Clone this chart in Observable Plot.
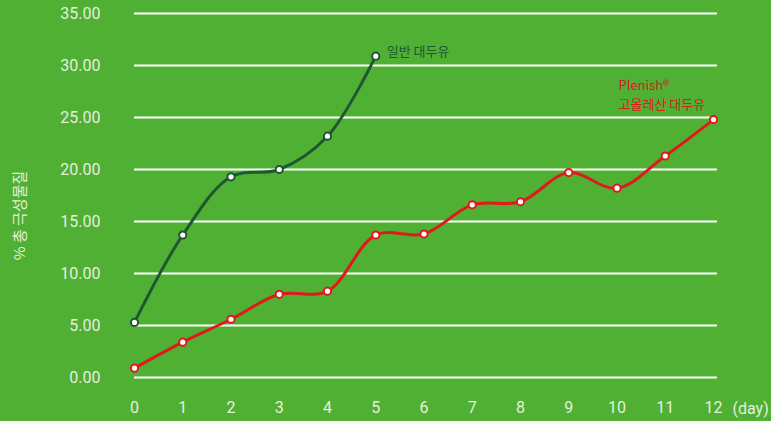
<!DOCTYPE html>
<html>
<head>
<meta charset="utf-8">
<script src="https://cdn.jsdelivr.net/npm/d3@7"></script>
<script src="https://cdn.jsdelivr.net/npm/@observablehq/plot@0.6"></script>
<style>
  html, body { margin: 0; padding: 0; background: #50b034; }
  #chart svg { display: block; }
</style>
</head>
<body>
<div id="chart"></div>
<script>
const days = [0, 1, 2, 3, 4, 5, 6, 7, 8, 9, 10, 11, 12];
const regularValues = [5.3, 13.7, 19.3, 20.0, 23.2, 30.9];
const plenishValues = [0.9, 3.4, 5.6, 8.0, 8.3, 13.7, 13.8, 16.6, 16.9, 19.7, 18.2, 21.3, 24.8];
const yTicks = [0, 5, 10, 15, 20, 25, 30, 35];
const regularName = "일반 대두유";
const plenishName = ["Plenish®", "고올레산 대두유"];
const yTitle = "% 총 극성물질";
const xUnit = "(day)";

const regular = regularValues.map((v, i) => ({day: days[i], value: v}));
const plenish = plenishValues.map((v, i) => ({day: days[i], value: v}));

const green = "#1f5733";
const red = "#e0191b";
const txt = "#e4efdc";
const font = "Roboto, 'Noto Sans CJK KR', sans-serif";

const chart = Plot.plot({
  width: 771,
  height: 421,
  marginLeft: 134,
  marginRight: 58,
  marginTop: 13,
  marginBottom: 44,
  style: {background: "#50b034", color: txt, fontFamily: font, fontSize: "16px"},
  x: {domain: [0, 12], ticks: days, tickFormat: d3.format("d"), tickSize: 0, tickPadding: 24, label: null},
  y: {domain: [0, 35], ticks: yTicks, tickFormat: d3.format(".2f"), tickSize: 0, tickPadding: 34, label: null},
  marks: [
    Plot.ruleY(yTicks, {x1: days[0], x2: days[days.length - 1] + 0.08, stroke: "#ffffff", strokeWidth: 2}),
    Plot.line(regular, {x: "day", y: "value", stroke: green, strokeWidth: 3, curve: "catmull-rom"}),
    Plot.line(plenish, {x: "day", y: "value", stroke: red, strokeWidth: 3, curve: "catmull-rom"}),
    Plot.dot(regular, {x: "day", y: "value", r: 3.6, fill: "#ffffff", stroke: green, strokeWidth: 2}),
    Plot.dot(plenish, {x: "day", y: "value", r: 3.6, fill: "#ffffff", stroke: red, strokeWidth: 2}),
    Plot.text(regular.slice(-1), {x: "day", y: "value", text: () => regularName, textAnchor: "start", dx: 11, dy: -4, fill: green, fontSize: 13, fontFamily: "'Noto Sans CJK KR', sans-serif"}),
    Plot.text(plenish.slice(-1), {x: "day", y: "value", text: () => plenishName.join("\n"), textAnchor: "start", lineAnchor: "bottom", dx: -95, dy: -11, lineHeight: 1.45, fill: "#d81c1e", fontSize: 13, fontFamily: "'Noto Sans CJK KR', sans-serif"}),
    Plot.text([xUnit], {frameAnchor: "bottom-right", text: d => d, textAnchor: "start", lineAnchor: "middle", dx: 19, dy: 31, fill: txt, fontSize: 16, fontFamily: font}),
    Plot.text([yTitle], {frameAnchor: "left", text: d => d, rotate: -90, textAnchor: "middle", dx: -114, dy: 20, fill: txt, fontSize: 15, fontFamily: "'Noto Sans CJK KR', sans-serif"})
  ]
});
document.getElementById("chart").appendChild(chart);
</script>
</body>
</html>
